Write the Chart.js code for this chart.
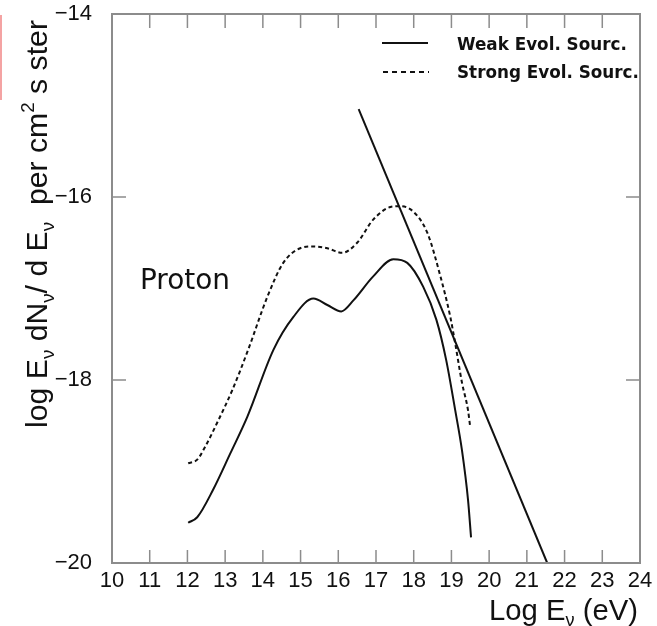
<!DOCTYPE html>
<html>
<head>
<meta charset="utf-8">
<script src="https://cdn.jsdelivr.net/npm/chart.js@4.4.1/dist/chart.umd.min.js"></script>
<style>
  html, body { margin: 0; padding: 0; background: #fff; }
  #wrap { position: relative; width: 657px; height: 626px; }
  #mark { position: absolute; left: 0; top: 15px; width: 2px; height: 85px; background: #f4a3a3; }
</style>
</head>
<body>
<div id="wrap">
  <canvas id="c" width="657" height="626"></canvas>
  <div id="mark"></div>
</div>
<script>
// ---- data ----
const xTicks = [10, 11, 12, 13, 14, 15, 16, 17, 18, 19, 20, 21, 22, 23, 24];
const yTicks = [-20, -18, -16, -14];

const seriesNames = ["Weak Evol. Sourc.", "Strong Evol. Sourc."];

const weakX = [12.02, 12.26, 12.68, 13.14, 13.59, 14.28, 14.81, 15.34, 15.71, 16.08, 16.40, 16.92, 17.46, 17.83, 18.25, 18.60, 18.86, 19.10, 19.28, 19.44, 19.52];
const weakY = [-19.56, -19.50, -19.20, -18.80, -18.40, -17.67, -17.31, -17.11, -17.18, -17.25, -17.13, -16.87, -16.68, -16.72, -16.98, -17.34, -17.78, -18.33, -18.77, -19.31, -19.72];

const strongX = [12.02, 12.26, 12.47, 12.82, 13.19, 13.61, 14.12, 14.54, 14.99, 15.34, 15.71, 16.10, 16.50, 16.92, 17.38, 17.64, 17.99, 18.36, 18.71, 18.97, 19.10, 19.28, 19.44, 19.50];
const strongY = [-18.91, -18.87, -18.73, -18.44, -18.11, -17.67, -17.09, -16.72, -16.56, -16.54, -16.56, -16.61, -16.50, -16.25, -16.11, -16.10, -16.16, -16.39, -16.87, -17.31, -17.60, -18.03, -18.33, -18.52];

const limitX = [16.54, 21.54];
const limitY = [-15.04, -20.0];

const pts = (xs, ys) => xs.map((x, i) => ({ x: x, y: ys[i] }));

const MINUS = "\u2212";
const AX = "#8c8c8c";

function fitFont(ctx, text, weight, family, targetW) {
  ctx.font = weight + " 20px " + family;
  const w = ctx.measureText(text).width;
  return 20 * targetW / w;
}

function drawRich(ctx, segs, size, family) {
  let x = 0;
  for (const s of segs) {
    const fs = s.sub || s.sup ? size * 0.62 : size;
    ctx.font = fs + "px " + family;
    const dy = s.sub ? size * 0.22 : (s.sup ? -size * 0.42 : 0);
    ctx.fillText(s.t, x, dy);
    x += ctx.measureText(s.t).width;
  }
  return x;
}
function richWidth(ctx, segs, size, family) {
  let x = 0;
  for (const s of segs) {
    const fs = s.sub || s.sup ? size * 0.62 : size;
    ctx.font = fs + "px " + family;
    x += ctx.measureText(s.t).width;
  }
  return x;
}

function zeroPad(s) {
  s.paddingTop = 0; s.paddingBottom = 0; s.paddingLeft = 0; s.paddingRight = 0;
}

const decor = {
  id: "decor",
  afterDraw(chart) {
    const ctx = chart.ctx;
    const a = chart.chartArea;
    const xs = chart.scales.x, ys = chart.scales.y;
    ctx.save();
    // frame
    ctx.strokeStyle = AX;
    ctx.lineWidth = 2;
    ctx.strokeRect(a.left, a.top, a.right - a.left, a.bottom - a.top);
    // inward ticks
    ctx.lineWidth = 1.5;
    ctx.beginPath();
    xs.ticks.forEach(t => {
      if (t.value <= xs.min || t.value >= xs.max) return;
      const px = xs.getPixelForValue(t.value);
      ctx.moveTo(px, a.bottom); ctx.lineTo(px, a.bottom - 13);
      ctx.moveTo(px, a.top); ctx.lineTo(px, a.top + 14);
    });
    ys.ticks.forEach(t => {
      if (t.value <= ys.min || t.value >= ys.max) return;
      const py = ys.getPixelForValue(t.value);
      ctx.moveTo(a.left, py); ctx.lineTo(a.left + 14, py);
      ctx.moveTo(a.right, py); ctx.lineTo(a.right - 14, py);
    });
    ctx.stroke();

    // legend
    ctx.strokeStyle = "#111";
    ctx.lineWidth = 2;
    ctx.setLineDash([]);
    ctx.beginPath(); ctx.moveTo(382, 43); ctx.lineTo(428, 43); ctx.stroke();
    ctx.setLineDash([5, 4]);
    ctx.beginPath(); ctx.moveTo(383, 72); ctx.lineTo(429, 72); ctx.stroke();
    ctx.setLineDash([]);
    ctx.fillStyle = "#111";
    ctx.textBaseline = "alphabetic";
    ctx.textAlign = "left";
    const lf = "'DejaVu Sans'";
    const s1 = fitFont(ctx, seriesNames[0], "bold", lf, 170);
    ctx.font = "bold " + s1 + "px " + lf;
    ctx.fillText(seriesNames[0], 457, 50);
    ctx.fillText(seriesNames[1], 457, 78);

    // Proton label
    const ps = fitFont(ctx, "Proton", "normal", lf, 90);
    ctx.font = ps + "px " + lf;
    ctx.fillText("Proton", 140, 289);

    // x title
    const hf = "'Liberation Sans'";
    const xsegs = [{ t: "Log E" }, { t: "\u03bd", sub: true }, { t: " (eV)" }];
    const xsz = 28 * 149 / richWidth(ctx, xsegs, 28, hf);
    ctx.save();
    ctx.translate(489, 620);
    drawRich(ctx, xsegs, xsz, hf);
    ctx.restore();

    // y title
    const ysegs = [{ t: "log E" }, { t: "\u03bd", sub: true }, { t: " dN" }, { t: "\u03bd", sub: true },
                   { t: "/ d E" }, { t: "\u03bd", sub: true }, { t: "  per cm" }, { t: "2", sup: true }, { t: " s ster" }];
    const ysz = 27 * 408 / richWidth(ctx, ysegs, 27, hf);
    ctx.save();
    ctx.translate(47, 428);
    ctx.rotate(-Math.PI / 2);
    drawRich(ctx, ysegs, ysz, hf);
    ctx.restore();

    ctx.restore();
  }
};

const lineStyle = {
  showLine: true, pointRadius: 0, borderColor: "#111", borderWidth: 2,
  fill: false, cubicInterpolationMode: "monotone"
};

new Chart(document.getElementById("c"), {
  type: "scatter",
  data: {
    datasets: [
      Object.assign({ label: seriesNames[0], data: pts(weakX, weakY) }, lineStyle),
      Object.assign({ label: seriesNames[1], data: pts(strongX, strongY), borderDash: [4, 3] }, lineStyle),
      Object.assign({ label: "limit", data: pts(limitX, limitY) }, lineStyle, { cubicInterpolationMode: "default", tension: 0 })
    ]
  },
  options: {
    responsive: false,
    devicePixelRatio: 1,
    animation: false,
    layout: { autoPadding: false, padding: { left: 0, top: 14, right: 17, bottom: 0 } },
    plugins: { legend: { display: false }, tooltip: { enabled: false } },
    scales: {
      x: {
        type: "linear", min: 10, max: 24,
        afterBuildTicks: s => { s.ticks = xTicks.map(v => ({ value: v })); },
        afterFit: s => { s.height = 63; zeroPad(s); },
        grid: { display: false, drawTicks: false },
        border: { display: false },
        ticks: { autoSkip: false, maxRotation: 0, padding: 5, color: "#111",
                 font: { family: "'Liberation Sans'", size: 22 },
                 callback: v => String(v) }
      },
      y: {
        type: "linear", min: -20, max: -14,
        afterBuildTicks: s => { s.ticks = yTicks.map(v => ({ value: v })); },
        afterFit: s => { s.width = 112; zeroPad(s); },
        grid: { display: false, drawTicks: false },
        border: { display: false },
        ticks: { padding: 20, color: "#111",
                 font: { family: "'Liberation Sans'", size: 22 },
                 callback: v => MINUS + String(Math.abs(v)) }
      }
    }
  },
  plugins: [decor]
});
</script>
</body>
</html>
